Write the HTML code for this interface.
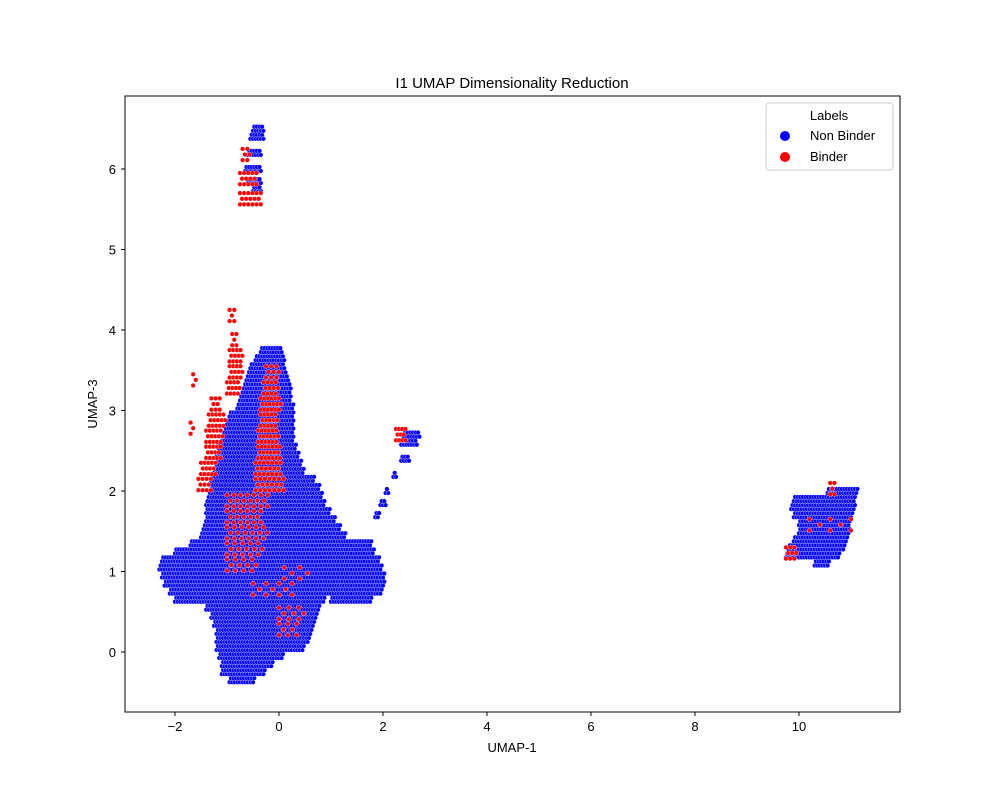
<!DOCTYPE html>
<html><head><meta charset="utf-8"><style>
body{margin:0;background:#fff;font-family:"Liberation Sans","DejaVu Sans",sans-serif}
</style></head><body>
<svg id="chart" width="1000" height="800" xmlns="http://www.w3.org/2000/svg" font-family="Liberation Sans, DejaVu Sans, sans-serif">
<rect width="1000" height="800" fill="#fff"/>
<g id="pts"></g>
<rect x="125" y="96" width="775" height="616" fill="none" stroke="#000" stroke-width="1"/>
<g id="axes"></g>
<text x="512" y="88" text-anchor="middle" font-size="15">I1 UMAP Dimensionality Reduction</text>
<text x="512" y="752" text-anchor="middle" font-size="13">UMAP-1</text>
<text transform="translate(97,404) rotate(-90)" text-anchor="middle" font-size="13">UMAP-3</text>
<g>
<rect x="766" y="103" width="127" height="67" rx="3" fill="#fff" stroke="#ccc"/>
<text x="829" y="120" text-anchor="middle" font-size="13">Labels</text>
<g><circle cx="785" cy="136" r="5" fill="#0000ff"/><text x="810" y="140" font-size="13">Non Binder</text></g>
<g><circle cx="785" cy="157" r="5" fill="#ff0000"/><text x="810" y="161" font-size="13">Binder</text></g>
</g>
</svg>
<script>
// spans: [y, xStart, xEnd]
const blueSpans = [
[-0.35,-0.95,-0.45],[-0.25,-1.1,-0.25],[-0.15,-1.1,-0.1],[-0.05,-1.15,0.1],[0.05,-1.2,0.5],
[0.15,-1.2,0.6],[0.25,-1.2,0.65],[0.35,-1.25,0.7],[0.45,-1.3,0.75],[0.55,-1.4,0.8],
[0.65,-2.0,0.9],[0.65,1.0,1.8],[0.75,-2.1,2.0],[0.85,-2.2,2.05],[0.95,-2.25,2.05],
[1.05,-2.3,2.0],[1.15,-2.25,1.95],[1.25,-2.0,1.85],[1.35,-1.7,1.8],[1.45,-1.5,1.3],
[1.55,-1.45,1.2],[1.65,-1.4,1.1],[1.75,-1.4,1.0],[1.85,-1.4,0.9],[1.95,-1.35,0.85],
[2.05,-1.3,0.8],[2.15,-1.3,0.7],[2.25,-1.25,0.5],[2.35,-1.2,0.45],[2.45,-1.2,0.4],
[2.55,-1.15,0.35],[2.65,-1.1,0.3],[2.75,-1.05,0.3],[2.85,-1.0,0.3],[2.95,-0.95,0.3],
[3.05,-0.8,0.3],[3.15,-0.75,0.25],[3.25,-0.7,0.25],[3.35,-0.65,0.2],[3.45,-0.6,0.15],
[3.55,-0.55,0.1],[3.65,-0.45,0.1],[3.75,-0.35,0.05],
[5.75,-0.5,-0.35],[5.85,-0.6,-0.35],[6.0,-0.65,-0.35],[6.2,-0.6,-0.35],[6.4,-0.55,-0.3],[6.5,-0.5,-0.3],
[1.7,1.85,1.95],[1.85,1.95,2.05],[2.0,2.05,2.1],[2.2,2.2,2.25],[2.4,2.35,2.5],[2.6,2.35,2.65],[2.7,2.4,2.7],
[1.1,10.3,10.6],[1.2,9.75,10.8],[1.3,9.8,10.9],[1.4,9.9,10.95],[1.5,10.0,11.0],[1.6,10.0,11.0],
[1.7,9.9,11.05],[1.8,9.85,11.1],[1.9,9.9,11.1],[2.0,10.55,11.15]
];
// red spans: [y, xStart, xEnd, spacing]
const redSpans = [
[2.1,-1.55,-1.3,0.08],[2.3,-1.5,-1.2,0.07],[2.5,-1.4,-1.1,0.07],[2.7,-1.4,-1.05,0.07],[2.9,-1.35,-1.0,0.07],[3.1,-1.3,-1.1,0.08],
[2.8,-1.7,-1.6,0.1],[3.4,-1.65,-1.55,0.1],
[3.3,-1.0,-0.75,0.07],[3.5,-0.95,-0.7,0.07],[3.7,-0.95,-0.7,0.07],[3.9,-0.9,-0.8,0.08],[4.2,-0.95,-0.85,0.09],
[2.1,-0.45,0.1,0.09],[2.3,-0.45,0.05,0.08],[2.5,-0.4,0.05,0.07],[2.7,-0.4,0.0,0.07],[2.9,-0.35,0.0,0.07],[3.1,-0.35,0.05,0.07],[3.3,-0.3,0.0,0.08],[3.5,-0.25,0.0,0.1],
[1.1,-1.0,-0.4,0.16],[1.3,-1.0,-0.3,0.15],[1.5,-1.0,-0.2,0.14],[1.7,-1.0,-0.3,0.13],[1.9,-1.0,-0.2,0.13],
[0.3,0.0,0.4,0.17],[0.5,0.0,0.5,0.19],[0.8,-0.5,0.3,0.25],[1.0,0.1,0.6,0.3],
[5.65,-0.75,-0.35,0.08],[5.9,-0.75,-0.4,0.08],[6.2,-0.7,-0.55,0.09],
[2.72,2.25,2.45,0.06],[1.25,9.75,9.95,0.08],[2.05,10.6,10.7,0.08],[1.6,10.2,11.0,0.4]
];
const xTicks=[-2,0,2,4,6,8,10];
const yTicks=[0,1,2,3,4,5,6];
const X=v=>279+v*52, Y=v=>652-v*80.5;
const NS="http://www.w3.org/2000/svg";
const g=document.getElementById('pts'), ax=document.getElementById('axes');
function dot(x,y,c,name){
 const el=document.createElementNS(NS,'circle');
 el.setAttribute('cx',X(x).toFixed(1));el.setAttribute('cy',Y(y).toFixed(1));
 el.setAttribute('r','2.3');el.setAttribute('fill',c);el.setAttribute('stroke','#fff');el.setAttribute('stroke-width','0.35');
 
 
 g.appendChild(el);
}
blueSpans.forEach(([y,x0,x1])=>{
 for(let r=0;r<2;r++){const yy=y-0.05+r*0.05+0.025;const off=(r%2)*0.025;
  for(let x=x0+off;x<=x1;x+=0.05) dot(x,yy,'#0000ff','point-non-binder');}
});
redSpans.forEach(([y,x0,x1,s])=>{
 for(let r=0;r<3;r++){const yy=y-0.09+r*0.07;const off=(r%2)*s/2;
  for(let x=x0+off;x<=x1;x+=s) dot(x,yy,'#ff0000','point-binder');}
});
xTicks.forEach(t=>{
 const l=document.createElementNS(NS,'line');l.setAttribute('x1',X(t));l.setAttribute('x2',X(t));l.setAttribute('y1',712);l.setAttribute('y2',716);l.setAttribute('stroke','#000');
 
 ax.appendChild(l);
 const tx=document.createElementNS(NS,'text');tx.setAttribute('x',X(t));tx.setAttribute('y',731);tx.setAttribute('text-anchor','middle');tx.setAttribute('font-size','13');tx.textContent=t<0?'\u2212'+(-t):t;
 
 ax.appendChild(tx);
});
yTicks.forEach(t=>{
 const l=document.createElementNS(NS,'line');l.setAttribute('x1',121);l.setAttribute('x2',125);l.setAttribute('y1',Y(t));l.setAttribute('y2',Y(t));l.setAttribute('stroke','#000');
 
 ax.appendChild(l);
 const tx=document.createElementNS(NS,'text');tx.setAttribute('x',116);tx.setAttribute('y',Y(t)+5);tx.setAttribute('text-anchor','end');tx.setAttribute('font-size','13');tx.textContent=t;
 
 ax.appendChild(tx);
});
</script>
</body></html>
